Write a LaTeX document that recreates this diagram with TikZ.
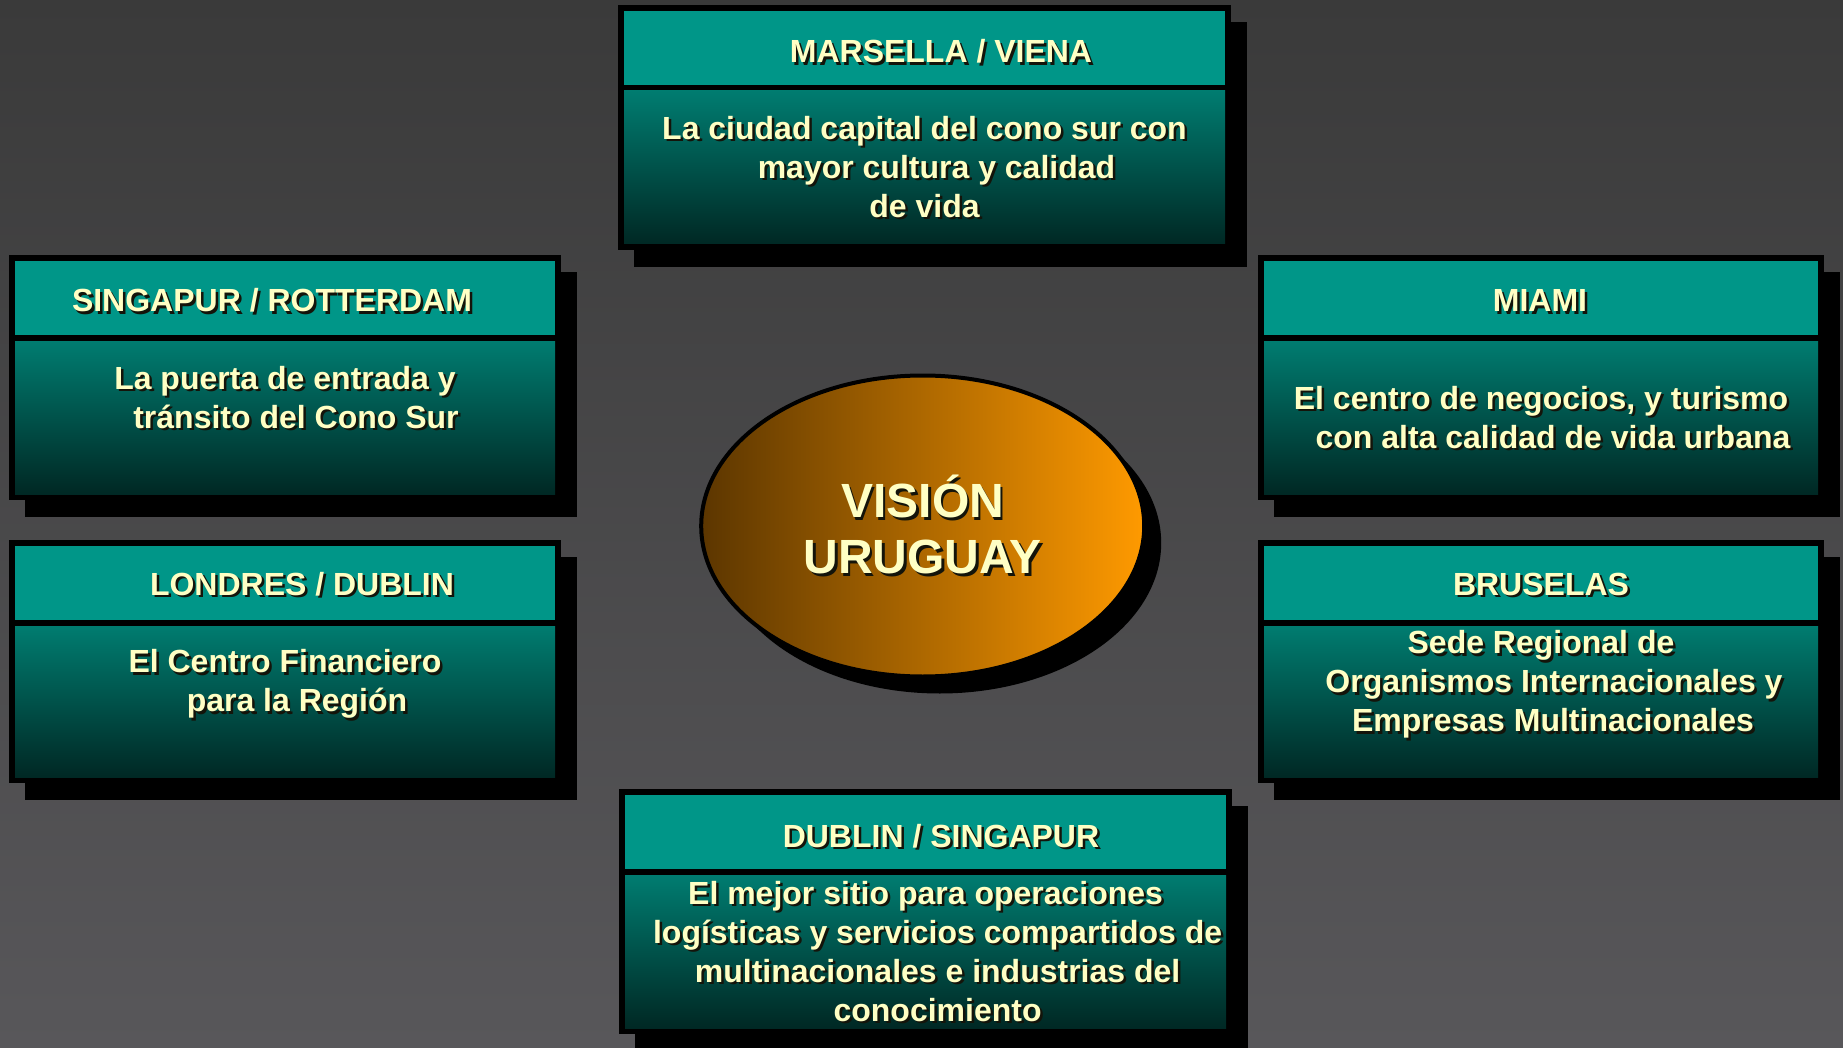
\documentclass[tikz,border=0pt]{standalone}
\usepackage{fontspec}
\setmainfont{Liberation Sans}
\usetikzlibrary{shapes.geometric}
\definecolor{bgtop}{RGB}{58,58,58}
\definecolor{bgbot}{RGB}{88,87,90}
\definecolor{hdr}{RGB}{0,150,136}
\definecolor{bodytop}{RGB}{0,124,112}
\definecolor{bodybot}{RGB}{0,40,36}
\definecolor{txt}{RGB}{255,255,196}
\definecolor{txtshadow}{RGB}{20,20,10}
\definecolor{ellL}{RGB}{92,54,0}
\definecolor{ellR}{RGB}{255,154,0}
\tikzset{
  hdrtext/.style={anchor=base, inner sep=0pt, text=txt, font=\fontsize{32}{39}\selectfont\bfseries},
  bodytext/.style={anchor=center, inner sep=0pt, align=center, text=txt, font=\fontsize{32}{39}\selectfont\bfseries},
  framefill/.style={fill=black},
  hdrfill/.style={fill=hdr},
  bodyfill/.style={top color=bodytop, bottom color=bodybot},
}
\newcommand\shd[1]{\makebox[0pt][l]{\hspace{2.5pt}\raisebox{-2.5pt}{\color{txtshadow}#1}}#1}
\newcommand\cityframe[4]{%
  \fill[framefill] (#1+16,#2+17) rectangle (#3+16,#4+17);
  \fill[framefill] (#1,#2) rectangle (#3,#4);
  \fill[hdrfill] (#1+6,#2+6) rectangle (#3-6,#2+80);
  \shade[bodyfill] (#1+6,#2+86) rectangle (#3-6,#4-6);
}
\begin{document}
\begin{tikzpicture}[x=1pt,y=-1pt]
\useasboundingbox (0,0) rectangle (1843,1048);
\shade[top color=bgtop, bottom color=bgbot] (0,0) rectangle (1843,1048);

% frames
\cityframe{618}{5}{1231}{250}
\cityframe{9}{255}{561}{500}
\cityframe{9}{540}{561}{783}
\cityframe{1258}{255}{1824}{500}
\cityframe{1258}{540}{1824}{783}
\cityframe{619}{789}{1232}{1034}

% top
\node[hdrtext] (marsh) at (941,63) {\shd{MARSELLA / VIENA}};
\node[bodytext] (marsb) at (924.5,168) {\shd{La ciudad capital del cono sur con}\\\hspace*{24pt}\shd{mayor cultura y calidad}\\\shd{de vida}};

% left top
\node[hdrtext] (singh) at (272,312) {\shd{SINGAPUR / ROTTERDAM}};
\node[bodytext] (singb) at (285,398.5) {\shd{La puerta de entrada y}\\\hspace*{22pt}\shd{tránsito del Cono Sur}};

% left bottom
\node[hdrtext] (londh) at (302,595) {\shd{LONDRES / DUBLIN}};
\node[bodytext] (londb) at (285,685.5) {\shd{El Centro Financiero}\\\hspace*{24pt}\shd{para la Región}};

% right top
\node[hdrtext] (miamh) at (1540,312) {\shd{MIAMI}};
\node[bodytext] (miamb) at (1541,418.5) {\shd{El centro de negocios, y turismo}\\\hspace*{24pt}\shd{con alta calidad de vida urbana}};

% right bottom
\node[hdrtext] (brush) at (1541,595) {\shd{BRUSELAS}};
\node[bodytext] (brusb) at (1541,685.5) {\shd{Sede Regional de}\\\hspace*{26pt}\shd{Organismos Internacionales y}\\\hspace*{24pt}\shd{Empresas Multinacionales}};

% bottom
\node[hdrtext] (dubh) at (941,847) {\shd{DUBLIN / SINGAPUR}};
\node[bodytext] (dubb) at (925.6,952.5) {\shd{El mejor sitio para operaciones}\\\hspace*{24pt}\shd{logísticas y servicios compartidos de}\\\hspace*{24pt}\shd{multinacionales e industrias del}\\\hspace*{24pt}\shd{conocimiento}};

% ellipse
\node[ellipse, fill=black, minimum width=443pt, minimum height=301pt, inner sep=0pt] (visshadow) at (939.7,543) {};
\node[ellipse, draw=black, line width=4pt, minimum width=443pt, minimum height=301pt, inner sep=0pt,
      left color=ellL, right color=ellR, align=center, text=txt,
      font=\fontsize{48}{56.4}\selectfont\bfseries] (vision) at (922.7,526) {\shd{VISIÓN}\\\shd{URUGUAY}};
\end{tikzpicture}
\end{document}
